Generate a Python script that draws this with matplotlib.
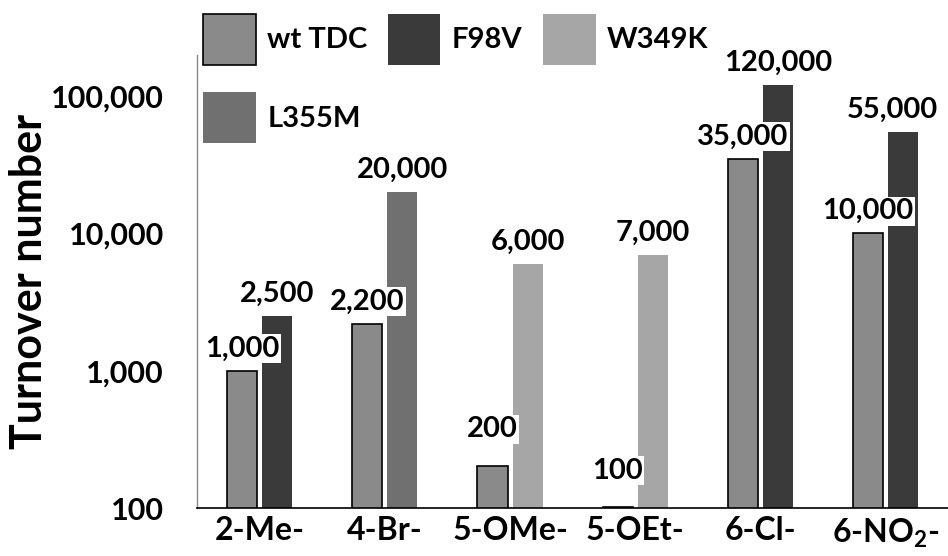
import numpy as np
import matplotlib
matplotlib.use('Agg')
from matplotlib import pyplot as plt
from matplotlib.ticker import FuncFormatter, NullLocator

# 数据
categories = ['2-Me-', '4-Br-', '5-OMe-', '5-OEt-', '6-Cl-', '6-NO$_\\mathbf{2}$-']
wt_tdc = [1000, 2200, 200, 100, 35000, 10000]
f98v = [2500, np.nan, np.nan, np.nan, 120000, 55000]
w349k = [np.nan, np.nan, 6000, 7000, np.nan, np.nan]
l355m = [np.nan, 20000, np.nan, np.nan, np.nan, np.nan]
y_ticks = [100, 1000, 10000, 100000]

plt.rcParams['font.family'] = 'Lato'
plt.rcParams['font.weight'] = 'bold'
plt.rcParams['mathtext.fontset'] = 'custom'
plt.rcParams['mathtext.rm'] = 'Lato:bold'
plt.rcParams['mathtext.bf'] = 'Lato:bold'

fig = plt.figure(figsize=(9.48, 5.56), dpi=100)
ax = fig.add_axes([0.208, 0.0863, 0.792, 0.815])

x = np.arange(len(categories))
width = 0.24
off = 0.14

# 柱状图：wt TDC 在左，突变体在右
b_wt = ax.bar(x - off, wt_tdc, width, bottom=1, color='#8a8a8a', edgecolor='black', linewidth=1.2, label='wt TDC')
b_f = ax.bar(x + off, f98v, width, bottom=1, color='#3a3a3a', label='F98V')
b_w = ax.bar(x + off, w349k, width, bottom=1, color='#a6a6a6', label='W349K')
b_l = ax.bar(x + off, l355m, width, bottom=1, color='#707070', label='L355M')

ax.set_yscale('log')
ax.set_ylim(100, 200000)
ax.set_xlim(-0.5, len(categories) - 0.5)

# 数值标签（白底）
for xs, vals in [(x - off, wt_tdc), (x + off, f98v), (x + off, w349k), (x + off, l355m)]:
    for xi, v in zip(xs, vals):
        if np.isnan(v):
            continue
        dy = 27 if v <= 200 else 16
        dx = -8 if xi > len(categories) - 1 else 0
        ax.annotate(f'{v:,.0f}', xy=(xi, v), xytext=(dx, dy), textcoords='offset points',
                    ha='center', va='center', fontsize=21, fontweight='bold', zorder=5,
                    bbox=dict(boxstyle='square,pad=0.05', fc='white', ec='none'))

ax.set_yticks(y_ticks)
ax.yaxis.set_minor_locator(NullLocator())
ax.yaxis.set_major_formatter(FuncFormatter(lambda v, p: f'{v:,.0f}'))
ax.set_xticks(x)
ax.set_xticklabels(categories)
ax.tick_params(axis='y', length=0, pad=24, labelsize=22)
ax.tick_params(axis='x', length=0, pad=6, labelsize=23)

ax.set_ylabel('Turnover number', fontsize=31, fontweight='bold')
ax.yaxis.set_label_coords(-0.197, 0.5)

ax.spines['top'].set_visible(False)
ax.spines['right'].set_visible(False)
ax.spines['left'].set_color('#888888')
ax.spines['left'].set_linewidth(1)
ax.spines['bottom'].set_linewidth(1.2)

# 图例，按行排列
handles = [b_wt, b_l, b_f, b_w]
labels = ['wt TDC', 'L355M', 'F98V', 'W349K']
fig.legend(handles, labels, ncol=3, loc='upper left', bbox_to_anchor=(203 / 948, 1 - 14 / 556),
           frameon=False, fontsize=21, borderpad=0, borderaxespad=0,
           handlelength=1.8, handleheight=2.3, handletextpad=0.4,
           columnspacing=0.7, labelspacing=0.95)

plt.savefig('out.png', dpi=100)
